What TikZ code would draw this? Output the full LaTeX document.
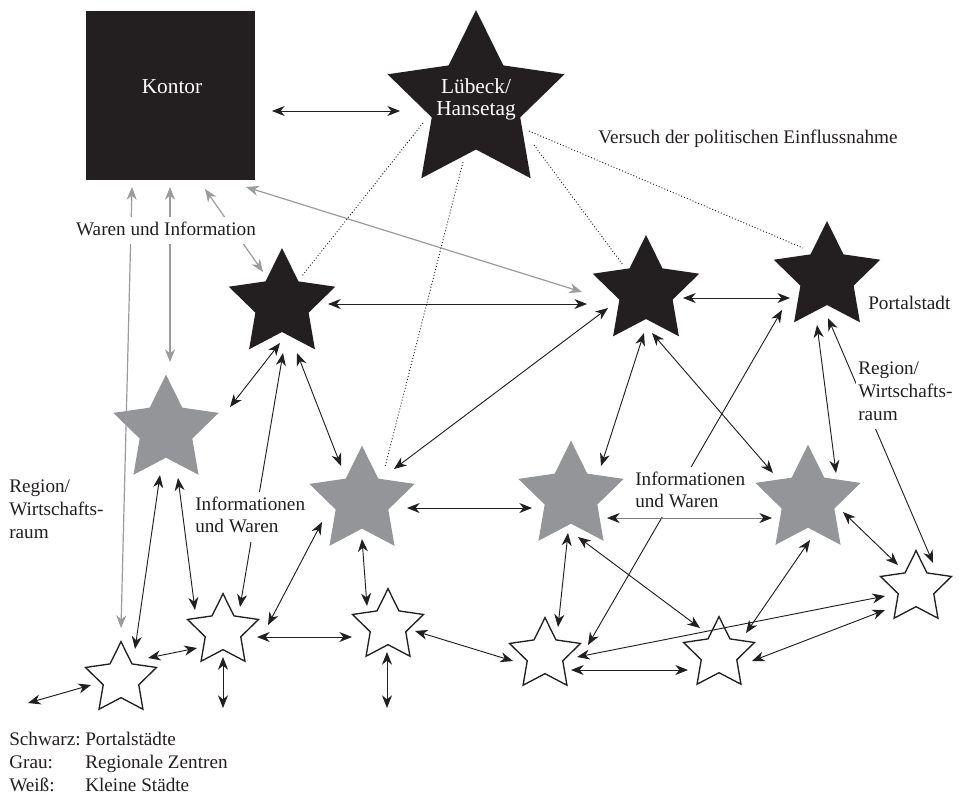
\documentclass[tikz,border=0pt]{standalone}
\usepackage{fontspec}
\setmainfont{Liberation Serif}
\usetikzlibrary{shapes.geometric,arrows.meta,calc}
\definecolor{ink}{HTML}{231F20}
\definecolor{regio}{HTML}{939598}
\definecolor{flow}{HTML}{9A9B9E}
\begin{document}
\begin{tikzpicture}[x=0.75pt,y=-0.75pt,
  >={Stealth[length=9.5pt,width=7.5pt,inset=3pt]},
  stern/.style={star, star points=5, star point ratio=2, inner sep=0pt, outer sep=0pt},
  portal/.style={stern, fill=ink, minimum size=84pt},
  zentrum/.style={stern, fill=regio, minimum size=83pt},
  klein/.style={stern, fill=white, draw=ink, line width=1pt, minimum size=56pt},
  link/.style={color=ink, line width=0.7pt, <->},
  flowlink/.style={color=flow, line width=0.9pt, <->},
  influence/.style={color=ink, line width=0.7pt, dash pattern=on 0.7pt off 1.6pt},
  lbl/.style={font=\fontsize{14.4}{17}\selectfont, text=ink, inner sep=1.5pt},
  cover/.style={lbl, fill=white},
  inv/.style={font=\fontsize{16}{16.5}\selectfont, text=white, inner sep=0pt}
]
\fill[white] (0,0) rectangle (959,794);
\useasboundingbox (0,0) rectangle (959,794);

% Kontor and Hansetag
\node[fill=ink, minimum size=126.75pt, inner sep=0pt] (K) at (170.5,95.5) {};
\node[stern, fill=ink, minimum size=139.5pt] (L) at (476,103) {};

% portal cities
\node[portal] (B1) at (282,304) {};
\node[portal] (B2) at (646,291) {};
\node[portal] (B3) at (827,277) {};

% regional centres
\node[zentrum] (G1) at (166,430) {};
\node[zentrum] (G2) at (362,501) {};
\node[zentrum] (G3) at (571,496) {};
\node[zentrum] (G4) at (808,500) {};

% small towns
\node[klein] (W1) at (121,679) {};
\node[klein] (W2) at (223,631) {};
\node[klein] (W3) at (388,626) {};
\node[klein] (W4) at (545,655) {};
\node[klein] (W5) at (719,654) {};
\node[klein] (W6) at (916,588) {};

% open ends towards the hinterland
\coordinate (e1) at (28,703);
\coordinate (e2) at (223,708);
\coordinate (e3) at (387,708);

% Kontor <-> Hansetag
\draw[link] ($(K.center)+(101.5,15.5)$) -- ($(L.center)+(-76,8)$);

% political influence
\draw[influence] ($(L.center)+(-53,20)$) -- ($(B1.center)+(20,-28)$);
\draw[influence] ($(L.center)+(-13,59)$) -- ($(G2.center)+(23,-34)$);
\draw[influence] ($(L.center)+(58,42)$) -- ($(B2.center)+(-23,-26)$);
\draw[influence] ($(L.center)+(53,28)$) -- ($(B3.center)+(-24,-29)$);

% goods and information to the Kontor
\draw[flowlink] ($(K.center)+(-38.5,91.5)$) -- ($(W1.center)+(0,-51)$);
\draw[flowlink] ($(K.center)+(-0.5,91.5)$) -- ($(G1.center)+(4,-68)$);
\draw[flowlink] ($(K.center)+(34.5,93.5)$) -- ($(B1.center)+(-19,-32)$);
\draw[flowlink] ($(K.center)+(75.5,91.5)$) -- ($(B2.center)+(-64,1)$);

% network links
\draw[link] ($(B1.center)+(46,0)$) -- ($(B2.center)+(-59,13)$);
\draw[link] ($(B2.center)+(37,7)$) -- ($(B3.center)+(-37,21)$);
\draw[link] ($(G2.center)+(32,-32)$) -- ($(B2.center)+(-38,17)$);
\draw[link] ($(G3.center)+(30,-30)$) -- ($(B2.center)+(-2,42)$);
\draw[link] ($(B2.center)+(6,42)$) -- ($(G4.center)+(-35,-27)$);
\draw[link] ($(W4.center)+(43,-10)$) -- ($(B3.center)+(-45,33)$);
\draw[link] ($(B3.center)+(-10,48)$) -- ($(G4.center)+(28,-27)$);
\draw[link] ($(B3.center)+(1,41)$) -- ($(W6.center)+(17,-25)$);
\draw[link] ($(B1.center)+(-2,39)$) -- ($(G1.center)+(64,-23)$);
\draw[link] ($(B1.center)+(1,49)$) -- ($(W2.center)+(17,-24)$);
\draw[link] ($(B1.center)+(15,49)$) -- ($(G2.center)+(-21,-35)$);
\draw[link] ($(G1.center)+(-6,45)$) -- ($(W1.center)+(14,-30)$);
\draw[link] ($(G1.center)+(12,48)$) -- ($(W2.center)+(-28,-21)$);
\draw[link] ($(W1.center)+(27,-21)$) -- ($(W2.center)+(-26,17)$);
\draw[link] ($(W1.center)+(-30,6)$) -- (e1);
\draw[link] ($(W2.center)+(0,26)$) -- (e2);
\draw[link] ($(W3.center)+(-1,26)$) -- (e3);
\draw[link] ($(W2.center)+(34,6)$) -- ($(W3.center)+(-36,11)$);
\draw[link] ($(W2.center)+(45,-6)$) -- ($(G2.center)+(-40,21)$);
\draw[link] ($(G2.center)+(0,38)$) -- ($(W3.center)+(-21,-20)$);
\draw[link] ($(W3.center)+(27,5)$) -- ($(W4.center)+(-32,6)$);
\draw[link] ($(G2.center)+(45,7)$) -- ($(G3.center)+(-39,12)$);
\draw[color=ink!60, line width=0.5pt,
  {Stealth[length=9.5pt,width=7.5pt,inset=3pt,color=ink]}-{Stealth[length=9.5pt,width=7.5pt,inset=3pt,color=ink]}]
  ($(G3.center)+(36,22)$) -- ($(G4.center)+(-36,18)$);
\draw[link] ($(G3.center)+(-3,37)$) -- ($(W4.center)+(13,-28)$);
\draw[link] ($(G3.center)+(7,41)$) -- ($(W5.center)+(-19,-26)$);
\draw[link] ($(G4.center)+(2,40)$) -- ($(W5.center)+(27,-21)$);
\draw[link] ($(G4.center)+(35,12)$) -- ($(W6.center)+(-18,-23)$);
\draw[link] ($(W4.center)+(26,15)$) -- ($(W5.center)+(-31,16)$);
\draw[link] ($(W4.center)+(32,2)$) -- ($(W6.center)+(-31,8)$);
\draw[link] ($(W5.center)+(33,7)$) -- ($(W6.center)+(-31,22)$);

% texts
\node[inv, anchor=base] (ktxt) at (172,93) {Kontor};
\node[inv, align=center] (ltxt) at (476,99.6) {\strut Lübeck/\\\strut Hansetag};
\node[lbl, anchor=base] (infl) at (748,143) {Versuch der politischen Einflussnahme};
\node[lbl, anchor=base west] (ptxt) at (866,309) {Portalstadt};
\node[cover, anchor=base] (wtxt) at (166,235) {\strut Waren und Information};
\node[cover, align=left, anchor=west] (rl) at (7,511) {\strut Region/\\\strut Wirtschafts-\\\strut raum};
\node[cover, align=left, anchor=west] (rr) at (856,393) {\strut Region/\\\strut Wirtschafts-\\\strut raum};
\node[cover, align=left, anchor=west] (il) at (193,517) {\strut Informationen\\\strut und Waren};
\node[cover, align=left, anchor=west] (ir) at (633,492) {\strut Informationen\\\strut und Waren};
\node[lbl, align=left, anchor=west] (leg1) at (7,764) {\strut Schwarz:\\\strut Grau:\\\strut Weiß:};
\node[lbl, align=left, anchor=west] (leg2) at (83,764) {\strut Portalstädte\\\strut Regionale Zentren\\\strut Kleine Städte};
\end{tikzpicture}
\end{document}
